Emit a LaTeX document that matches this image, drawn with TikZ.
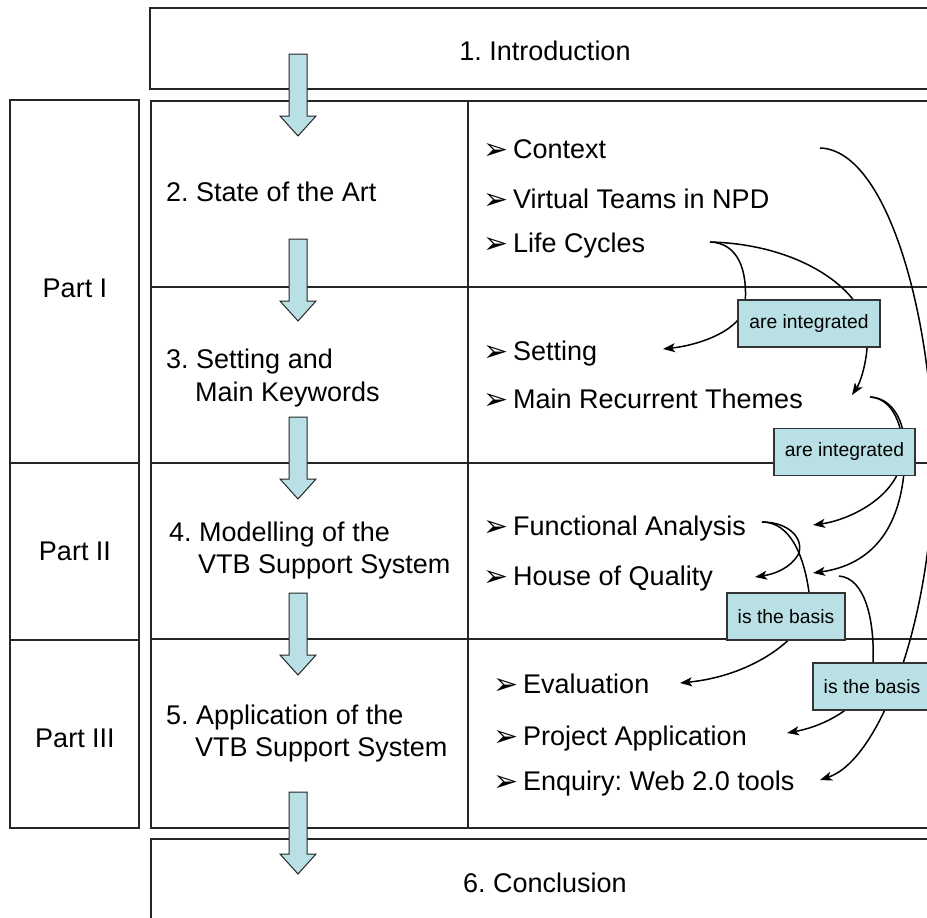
\documentclass[tikz,border=0pt]{standalone}
\usepackage{fontspec}
\setmainfont{Liberation Sans}
\newfontfamily\bulfont{DejaVu Sans}
\usetikzlibrary{arrows.meta}
\definecolor{boxblue}{RGB}{185,224,228}
\pgfdeclarelayer{background}
\pgfsetlayers{background,main}
\frenchspacing
\newcommand{\itm}[1]{\makebox[28pt][l]{\hspace*{-2pt}\bulfont\fontsize{30}{32}\selectfont\raisebox{-1pt}{➢}}#1}

\begin{document}
\begin{tikzpicture}[x=1pt,y=-1pt,
		frame/.style={draw=black!85, line width=1.2pt},
		chapter/.style={anchor=base west, inner sep=0, font=\fontsize{27}{32}\selectfont},
		part/.style={anchor=base, inner sep=0, font=\fontsize{27}{32}\selectfont},
		entry/.style={anchor=base west, inner sep=0, font=\fontsize{27}{32}\selectfont},
		labelbox/.style={draw=black!80, fill=boxblue, line width=1.2pt, inner sep=0,
			minimum height=47, font=\fontsize{19.3}{23}\selectfont},
		blockarrow/.style={draw=black!85, fill=boxblue, line width=1pt},
		link/.style={line width=1.5pt, -{Stealth[length=12pt,width=9pt,inset=3pt]}}]
			\useasboundingbox (0,0) rectangle (927,918);
			% table
			\begin{pgfonlayer}{background}
				\draw[frame] (150,8) rectangle (945,89);
				\draw[frame] (10,100) rectangle (139,828);
				\draw[frame] (10,463) -- (139,463) (10,640) -- (139,640);
				\draw[frame] (151,101) rectangle (945,828);
				\draw[frame] (468,101) -- (468,828);
				\foreach \y in {287,463,639}
					\draw[frame] (151,\y) -- (945,\y);
				\draw[frame] (151,839) rectangle (945,930);
			\end{pgfonlayer}
			% chapters
			\node[part] (intro) at (545,60) {1. Introduction};
			\node[part] (concl) at (545,892) {6. Conclusion};
			\node[part] (part1) at (75,297) {Part I};
			\node[part] (part2) at (75,560) {Part II};
			\node[part] (part3) at (75,747) {Part III};
			\node[chapter] (ch2) at (166,201) {2. State of the Art};
			\node[chapter] (ch3) at (166,368) {3. Setting and};
			\node[chapter] (ch3b) at (195,401) {Main Keywords};
			\node[chapter] (ch4) at (169,541) {4. Modelling of the};
			\node[chapter] (ch4b) at (198,573) {VTB Support System};
			\node[chapter] (ch5) at (166,724) {5. Application of the};
			\node[chapter] (ch5b) at (195,756) {VTB Support System};
			% block arrows
			\foreach \t in {54,239,417,593,792}
				\draw[blockarrow] (289,\t) -- (307,\t) -- (307,\t+62) -- (316,\t+62)
					-- (298,\t+82) -- (280,\t+62) -- (289,\t+62) -- cycle;
			% items
			\node[entry] (ctx) at (485,158) {\itm{Context}};
			\node[entry] (vt) at (485,208) {\itm{Virtual Teams in NPD}};
			\node[entry] (lc) at (485,252) {\itm{Life Cycles}};
			\node[entry] (set) at (485,360) {\itm{Setting}};
			\node[entry] (mrt) at (485,408) {\itm{Main Recurrent Themes}};
			\node[entry] (fa) at (485,535) {\itm{Functional Analysis}};
			\node[entry] (hoq) at (485,585) {\itm{House of Quality}};
			\node[entry] (eva) at (495,693) {\itm{Evaluation}};
			\node[entry] (pa) at (495,745) {\itm{Project Application}};
			\node[entry] (enq) at (495,790) {\itm{Enquiry: Web 2.0 tools}};
			\coordinate (ctx-out) at (820,148);
			\coordinate (lc-out) at (710,242);
			\coordinate (set-in) at (663,349);
			\coordinate (mrt-in) at (852,395);
			\coordinate (mrt-out) at (870,397);
			\coordinate (fa-in) at (813,525);
			\coordinate (fa-out) at (762,522);
			\coordinate (hoq-in) at (755,577);
			\coordinate (hoq-in2) at (813,573);
			\coordinate (hoq-out) at (839,576);
			\coordinate (eva-in) at (680,683);
			\coordinate (pa-in) at (787,733);
			\coordinate (enq-in) at (820,780);
			% labels
			\node[labelbox, minimum width=142] (integ1) at (809,323.5) {are integrated};
			\node[labelbox, minimum width=141] (integ2) at (844.5,452) {are integrated};
			\node[labelbox, minimum width=118] (basis1) at (786,616.5) {is the basis};
			\node[labelbox, minimum width=118] (basis2) at (872,686.5) {is the basis};
			% links behind the labels
			\begin{pgfonlayer}{background}
				\draw[link] (lc-out) .. controls (738,243) and (748,270) .. (745,305)
					.. controls (742,330) and (700,345) .. (set-in);
				\draw[link] (lc-out) .. controls (790,244) and (850,280) .. (865,320)
					.. controls (872,345) and (862,380) .. (mrt-in);
				\draw[link] (mrt-out) .. controls (890,398) and (902,420) .. (903,450)
					.. controls (903,495) and (850,520) .. (fa-in);
				\draw[link] (mrt-out) .. controls (892,398) and (905,420) .. (905,450)
					.. controls (905,530) and (870,565) .. (hoq-in2);
				\draw[link] (fa-out) .. controls (790,522) and (805,540) .. (798,555)
					.. controls (790,568) and (775,574) .. (hoq-in);
				\draw[link] (fa-out) .. controls (790,522) and (805,555) .. (810,600)
					.. controls (812,630) and (760,675) .. (eva-in);
				\draw[link] (hoq-out) .. controls (865,578) and (875,620) .. (873,665)
					.. controls (872,700) and (830,725) .. (pa-in);
				\draw[link] (ctx-out) .. controls (890,150) and (935,330) .. (933,470)
					.. controls (932,620) and (880,760) .. (enq-in);
			\end{pgfonlayer}
\end{tikzpicture}
\end{document}
